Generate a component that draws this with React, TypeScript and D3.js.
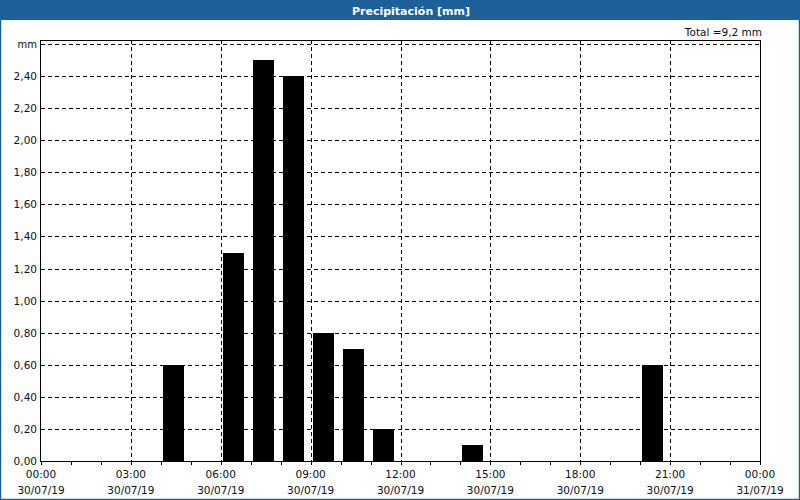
import React from "react";
import * as d3 from "d3";

const hours: number[] = [4, 6, 7, 8, 9, 10, 11, 14, 20];
const values: number[] = [0.6, 1.3, 2.5, 2.4, 0.8, 0.7, 0.2, 0.1, 0.6];
const yTicks: number[] = [0, 0.2, 0.4, 0.6, 0.8, 1.0, 1.2, 1.4, 1.6, 1.8, 2.0, 2.2, 2.4];
const xMajor: number[] = [0, 3, 6, 9, 12, 15, 18, 21, 24];
const xTimeLabels: string[] = ["00:00", "03:00", "06:00", "09:00", "12:00", "15:00", "18:00", "21:00", "00:00"];
const xDateLabels: string[] = ["30/07/19", "30/07/19", "30/07/19", "30/07/19", "30/07/19", "30/07/19", "30/07/19", "30/07/19", "31/07/19"];
const title = "Precipitación [mm]";
const totalLabel = "Total =9,2 mm";

export default function App() {
  const W = 800, H = 500;
  const L = 41, R = 760, T = 40, B = 461;
  const x = d3.scaleLinear().domain([0, 24]).range([L, R]);
  const y = d3.scaleLinear().domain([0, 2.625]).range([B, T]);
  const fmt = (v: number) => v.toFixed(2).replace(".", ",");
  const font = "DejaVu Sans, Verdana, sans-serif";
  const txt = "#0a0f1e";
  const hourW = x(1) - x(0);
  const minor = d3.range(0, 25);
  return (
    <svg width={W} height={H} style={{ position: "absolute", left: 0, top: 0 }} fontFamily={font}>
      <rect x={0} y={0} width={W} height={H} fill="#ffffff" />
      <rect x={0.5} y={0.5} width={W - 1} height={H - 1} fill="none" stroke="#1d5f98" strokeWidth={1.5} />
      <rect x={0} y={0} width={W} height={20} fill="#1d5f98" />
      <text x={411} y={14.5} textAnchor="middle" fill="#ffffff" fontWeight="bold" fontSize={11}>{title}</text>
      <text x={762} y={35.5} textAnchor="end" fill={txt} fontSize={10.5}>{totalLabel}</text>
      {/* horizontal grid */}
      {yTicks.slice(1).concat([2.6]).map((v, i) => (
        <line key={"hg" + i} x1={L} x2={R} y1={Math.round(y(v)) + 0.5} y2={Math.round(y(v)) + 0.5} stroke="#000" strokeDasharray="4,3" strokeWidth={1} />
      ))}
      {/* vertical grid */}
      {xMajor.slice(1, -1).map((h, i) => (
        <line key={"vg" + i} x1={Math.round(x(h)) + 0.5} x2={Math.round(x(h)) + 0.5} y1={T} y2={B} stroke="#000" strokeDasharray="4,3" strokeWidth={1} />
      ))}
      {/* bars */}
      {hours.map((h, i) => (
        <rect key={"b" + i} x={Math.round(x(h) + 2)} y={Math.round(y(values[i]))} width={Math.round(hourW * 0.7)} height={B - Math.round(y(values[i]))} fill="#000" />
      ))}
      {/* frame */}
      <rect x={L - 0.5} y={T + 0.5} width={R - L + 1} height={B - T} fill="none" stroke="#000" strokeWidth={1} />
      {/* minor ticks */}
      {minor.map((h, i) => (
        <line key={"mt" + i} x1={Math.round(x(h)) + 0.5} x2={Math.round(x(h)) + 0.5} y1={B} y2={B + 4} stroke="#000" />
      ))}
      {/* y labels */}
      {yTicks.map((v, i) => (
        <text key={"yt" + i} x={37} y={y(v) + 4} textAnchor="end" fontSize={10.5} fill={txt}>{fmt(v)}</text>
      ))}
      <text x={37} y={y(2.6) + 4} textAnchor="end" fontSize={10} fill={txt}>mm</text>
      {/* x labels */}
      {xMajor.map((h, i) => (
        <g key={"xl" + i}>
          <text x={x(h)} y={478} textAnchor="middle" fontSize={10.5} fill={txt}>{xTimeLabels[i]}</text>
          <text x={x(h)} y={494} textAnchor="middle" fontSize={10.5} fill={txt}>{xDateLabels[i]}</text>
        </g>
      ))}
    </svg>
  );
}
